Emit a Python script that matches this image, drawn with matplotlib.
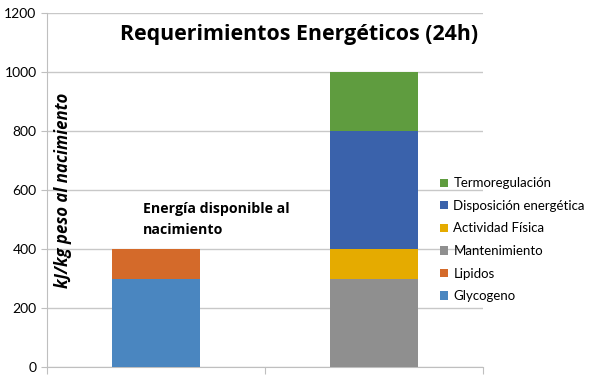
import numpy as np
import matplotlib
matplotlib.use("Agg")
import matplotlib.pyplot as plt

plt.rcParams['font.family'] = ['Lato', 'DejaVu Sans']

categories = ["Disponible", "Requerido"]
series_names = ["Glycogeno", "Lipidos", "Mantenimiento", "Actividad Física",
                "Disposición energética", "Termoregulación"]
glycogeno = [300, 0]
lipidos = [100, 0]
mantenimiento = [0, 300]
actividad = [0, 100]
disposicion = [0, 400]
termoregulacion = [0, 200]
series_values = [glycogeno, lipidos, mantenimiento, actividad, disposicion, termoregulacion]
colors = ["#4a86c0", "#d46a2a", "#8f8f8f", "#e5ab00", "#3a62ab", "#5f9c3f"]

fig = plt.figure(figsize=(5.99, 3.77), dpi=100)
ax = fig.add_axes([0.0785, 0.0265, 0.728, 0.939])

x = np.arange(len(categories))
bottom = np.zeros(len(categories))
handles = []
for name, vals, col in zip(series_names, series_values, colors):
    b = ax.bar(x, vals, width=0.4, bottom=bottom, color=col, label=name, zorder=3)
    handles.append(b)
    bottom += np.array(vals)

ax.set_xlim(-0.5, 1.5)
ax.set_ylim(0, 1200)
ax.set_yticks(range(0, 1201, 200))
ax.set_xticks([-0.5, 0.5, 1.5])
ax.set_xticklabels([])
ax.tick_params(axis='y', labelsize=10, colors='#bfbfbf', labelcolor='black', length=4)
ax.tick_params(axis='x', colors='#bfbfbf', length=5)
ax.grid(axis='y', color='#c8c8c8', linewidth=1, zorder=0)
for s in ['top', 'right']:
    ax.spines[s].set_visible(False)
for s in ['left', 'bottom']:
    ax.spines[s].set_color('#bfbfbf')

bold_font = ['Open Sans', 'DejaVu Sans']
ax.text(0.656, 1128, "Requerimientos Energéticos (24h)", fontsize=15.4, fontweight='bold',
        family=bold_font, ha='center', va='center')
ax.text(-0.427, 600, "kJ/kg peso al nacimiento", rotation=90, fontsize=12.1,
        fontweight='bold', style='italic', family=bold_font, ha='center', va='center')
ax.text(-0.06, 500, "Energía disponible al\nnacimiento", fontsize=10.2, fontweight='bold',
        family=bold_font, ha='left', va='center', linespacing=1.55)

leg = fig.legend(handles[::-1], series_names[::-1], loc='center left',
                 bbox_to_anchor=(0.715, 0.364), frameon=False, fontsize=9.5,
                 handlelength=0.6, handleheight=0.6, handletextpad=0.4, labelspacing=0.8)

fig.savefig("out.png", dpi=100)
